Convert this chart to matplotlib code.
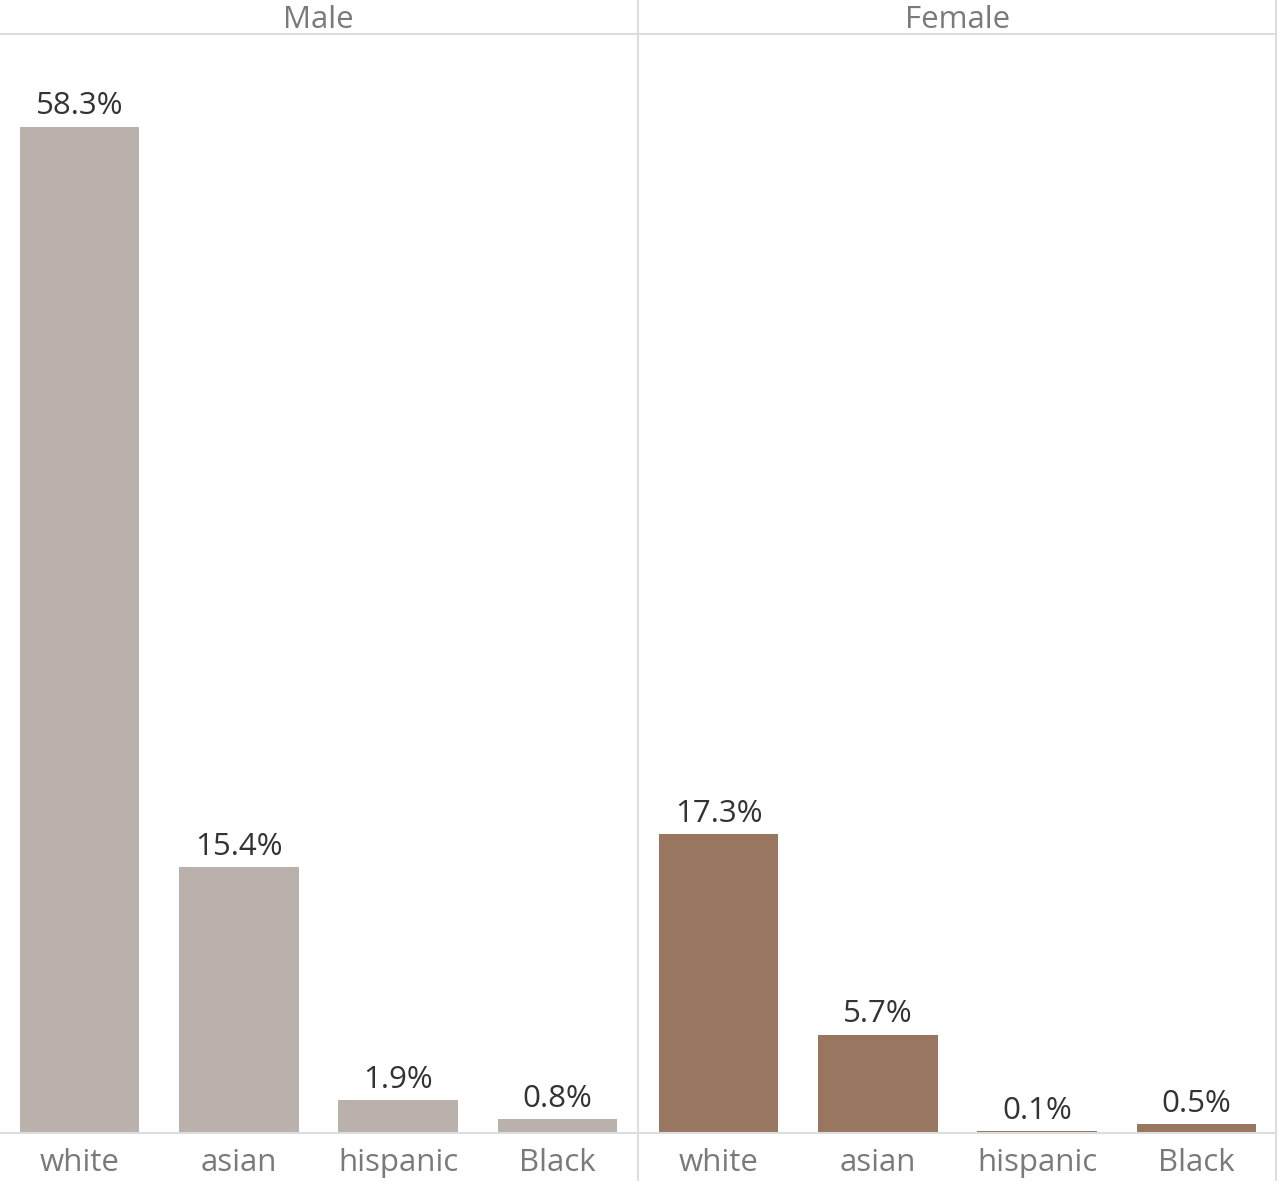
import matplotlib
matplotlib.use("Agg")
import matplotlib.pyplot as plt
from matplotlib.lines import Line2D

categories = ["white", "asian", "hispanic", "Black"]
panels = ["Male", "Female"]
male_pct = [58.3, 15.4, 1.9, 0.8]
female_pct = [17.3, 5.7, 0.1, 0.5]
colors = {"Male": "#bab0ac", "Female": "#98765f"}

plt.rcParams["font.family"] = ["Open Sans", "DejaVu Sans"]

W, H = 1280, 1185
fig = plt.figure(figsize=(W / 100, H / 100), dpi=100)

base_y = 1133
top_y = 35
panel_x = [0, 639]
panel_w = 637
fs = 22.5

for name, vals, px in zip(panels, [male_pct, female_pct], panel_x):
    ax = fig.add_axes([px / W, (H - base_y) / H, panel_w / W, (base_y - top_y) / H])
    bars = ax.bar(categories, vals, width=0.75, color=colors[name])
    ax.bar_label(bars, labels=[f"{v:.1f}%" for v in vals], padding=4,
                 fontsize=fs, color="#333333")
    ax.set_xlim(-0.5, 3.5)
    ax.set_ylim(0, 63.6)
    ax.set_yticks([])
    for s in ax.spines.values():
        s.set_visible(False)
    ax.tick_params(axis="x", length=0, pad=11, labelsize=fs, labelcolor="#7a7a7a")
    ax.patch.set_alpha(0)
    fig.text((px + panel_w / 2) / W, 1 - 20 / H, name, ha="center", va="center",
             fontsize=fs, color="#7a7a7a")

line_kw = dict(color="#dddddd", lw=1.5)
# header separator and baseline
fig.add_artist(Line2D([0, 1276 / W], [1 - 34 / H, 1 - 34 / H], **line_kw))
fig.add_artist(Line2D([0, 1276 / W], [1 - base_y / H, 1 - base_y / H], **line_kw))
# panel divider and right edge
fig.add_artist(Line2D([638 / W, 638 / W], [1 - 1180 / H, 1], **line_kw))
fig.add_artist(Line2D([1276 / W, 1276 / W], [1 - 1180 / H, 1], **line_kw))

fig.savefig("out.png", dpi=100, facecolor="white")
